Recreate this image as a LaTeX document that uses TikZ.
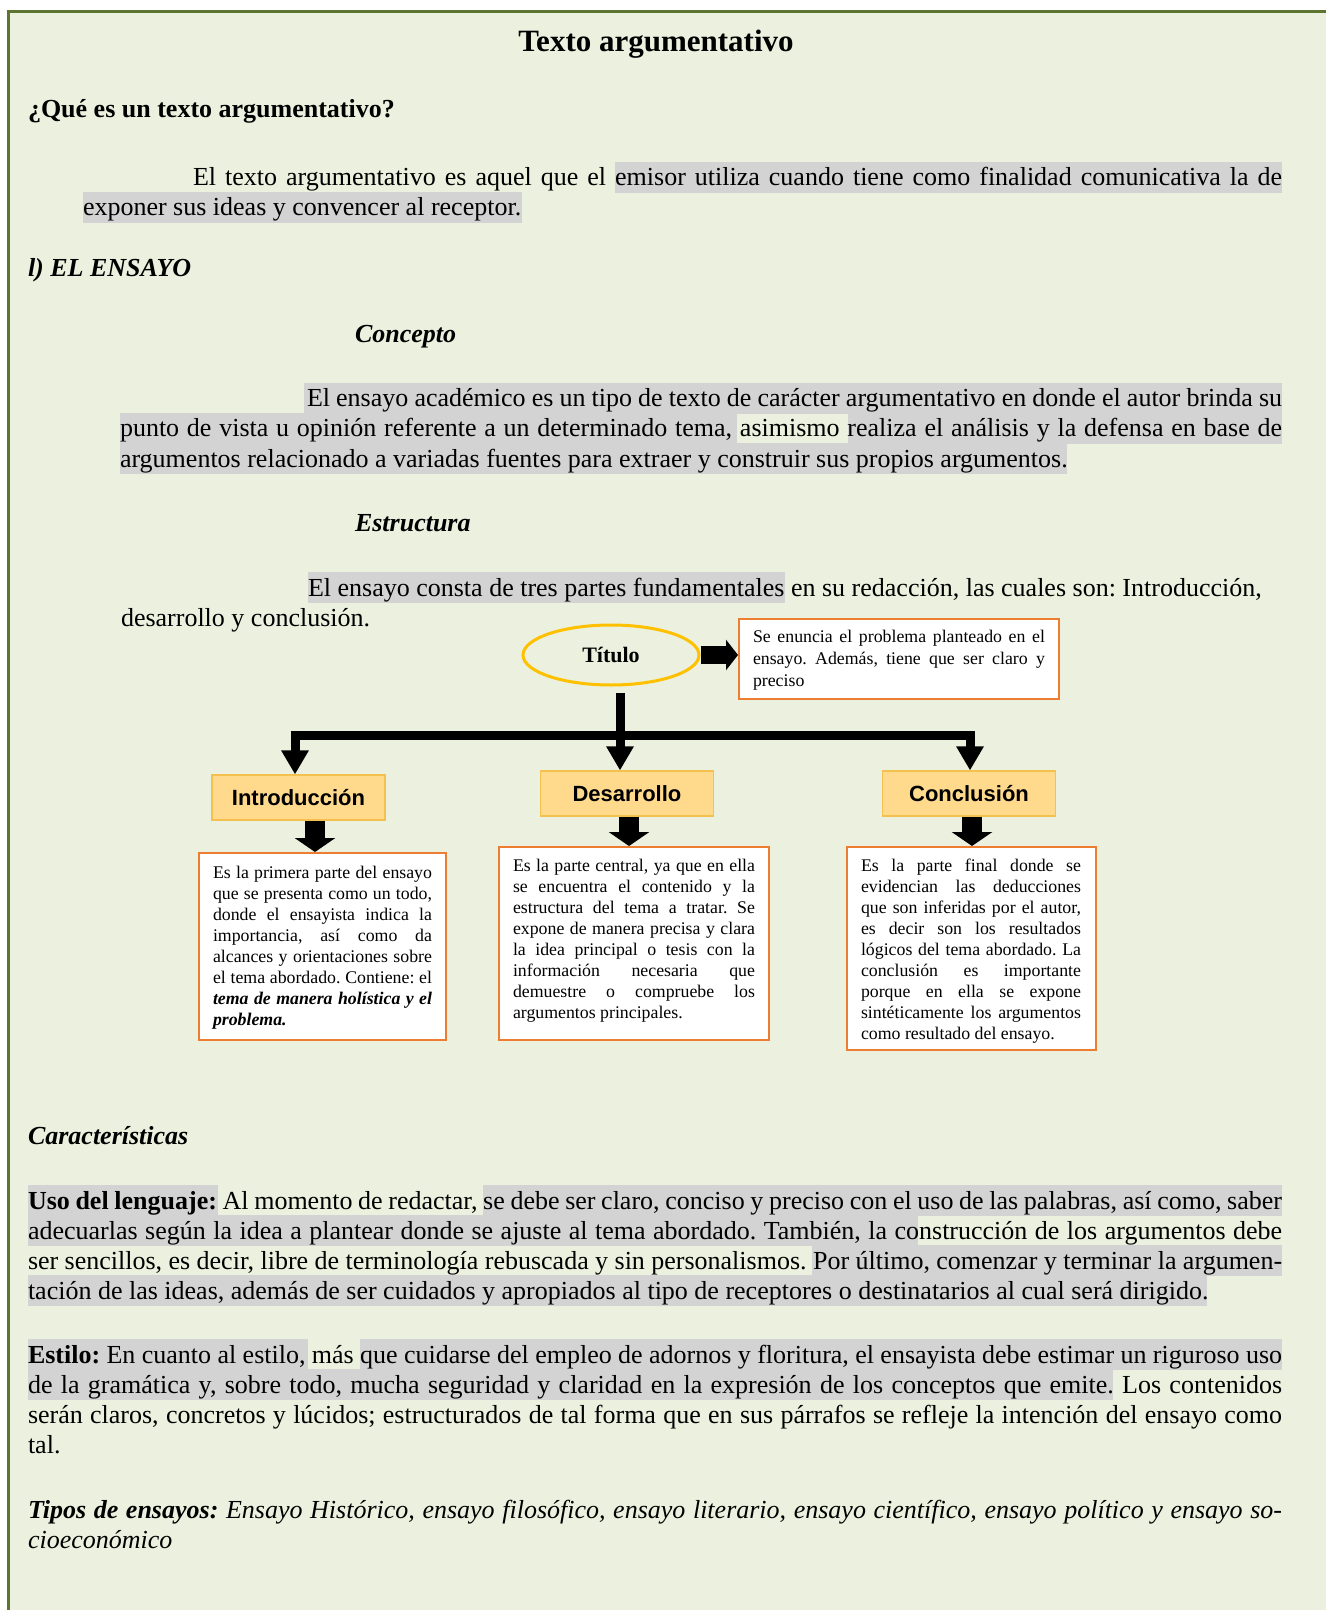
\documentclass[tikz,border=0pt]{standalone}
\usepackage{fontspec}
\setmainfont{Liberation Serif}
\setsansfont{Liberation Sans}
\usetikzlibrary{shapes.geometric,arrows.meta}
\definecolor{bgc}{HTML}{EBF1DE}
\definecolor{frc}{HTML}{5E7532}
\definecolor{hlc}{HTML}{D3D3D3}
\definecolor{orc}{HTML}{ED7D31}
\definecolor{goldc}{HTML}{FFC000}
\definecolor{ylf}{HTML}{FFD98C}
\definecolor{yld}{HTML}{F4C04E}
\newcommand{\jline}[5]{\node[txt] (#1) at (#2,#3) {\makebox[#4pt][s]{#5}};}
\newcommand{\pline}[4]{\node[txt] (#1) at (#2,#3) {#4};}
\newcommand{\sline}[5]{\node[stxt] (#1) at (#2,#3) {\makebox[#4pt][s]{#5}};}
\newcommand{\spline}[4]{\node[stxt] (#1) at (#2,#3) {#4};}
\newcommand{\hlr}[3]{\fill[hlc] (#1,#3-24) rectangle (#2,#3+7);}
\tikzset{
  txt/.style={anchor=base west,inner sep=0pt,outer sep=0pt,font=\fontsize{13}{15}\selectfont\frenchspacing},
  stxt/.style={anchor=base west,inner sep=0pt,outer sep=0pt,font=\fontsize{8.9}{10.5}\selectfont\frenchspacing},
  ybox/.style={draw=yld,fill=ylf,line width=0.6pt,minimum width=86.5pt,minimum height=22.5pt,inner sep=0pt,font=\sffamily\bfseries\fontsize{11}{13}\selectfont},
  obox/.style={draw=orc,fill=white,line width=1pt,inner sep=0pt},
  bar/.style={line width=4.5pt,line join=miter},
  bigtip/.style={-{Triangle[width=13pt,length=12pt]}},
  fat/.style={line width=10pt,-{Triangle[width=20pt,length=7pt]}},
}
\begin{document}
\frenchspacing
\begin{tikzpicture}[x=0.5pt,y=-0.5pt]
\useasboundingbox (0,0) rectangle (1326,1610);
\fill[white] (0,0) rectangle (1326,1610);
\fill[bgc] (8,12) rectangle (1326,1610);
\draw[frc,line width=1.5pt] (8,1610) -- (8,12) -- (1326,12);

% highlights
\hlr{615}{1282}{186}
\hlr{83}{522}{216}
\hlr{304}{1282}{407}
\hlr{120}{737}{437}
\hlr{848}{1282}{437}
\hlr{120}{1067}{467}
\hlr{308}{785}{596}
\hlr{28}{218}{1209}
\hlr{483}{1282}{1209}
\hlr{28}{918}{1239}
\hlr{812}{1282}{1269}
\hlr{28}{1207}{1299}
\hlr{28}{308}{1363}
\hlr{360}{1282}{1363}
\hlr{28}{1113}{1393}

% title and headings
\node[anchor=base,inner sep=0pt,font=\fontsize{15.5}{18}\selectfont\bfseries] (title) at (656,52) {Texto argumentativo};
\pline{q}{28}{118}{\textbf{¿Qué es un texto argumentativo?}}
\jline{p1a}{193}{186}{544.5}{El texto argumentativo es aquel que el emisor utiliza cuando tiene como finalidad comunicativa la de}
\pline{p1b}{83}{216}{exponer sus ideas y convencer al receptor.}
\pline{ens}{28}{277}{\textbf{\textit{l) EL ENSAYO}}}
\pline{conc}{355}{343}{\textbf{\textit{Concepto}}}
\jline{c1}{307}{407}{487.5}{El ensayo académico es un tipo de texto de carácter argumentativo en donde el autor brinda su}
\jline{c2}{120}{437}{581}{punto de vista u opinión referente a un determinado tema, asimismo realiza el análisis y la defensa en base de}
\pline{c3}{120}{467}{argumentos relacionado a variadas fuentes para extraer y construir sus propios argumentos.}
\pline{estr}{355}{531}{\textbf{\textit{Estructura}}}
\pline{e1}{308}{596}{El ensayo consta de tres partes fundamentales en su redacción, las cuales son: Introducción,}
\pline{e2}{121}{626}{desarrollo y conclusión.}

% diagram
\node[ellipse,draw=goldc,line width=1.5pt,minimum width=88pt,minimum height=30pt,inner sep=0pt,font=\fontsize{11}{13}\selectfont\bfseries] (tit) at (611,655) {Título};
\node[obox,minimum width=160pt,minimum height=40pt] (tbox) at (899,659) {};
\sline{t1}{753}{642}{146}{Se enuncia el problema planteado en el}
\sline{t2}{753}{664}{146}{ensayo. Además, tiene que ser claro y}
\spline{t3}{753}{686}{preciso}
\draw[line width=9pt,-{Triangle[width=15pt,length=6pt]}] (tit.east) -- (tit.east -| tbox.west);

\node[ybox] (intro) at (298.5,797.5) {Introducción};
\node[ybox] (desa) at (627,793.5) {Desarrollo};
\node[ybox] (concl) at (969,793.5) {Conclusión};

\coordinate (jc) at (620,735);
\coordinate (jl) at (295,735);
\coordinate (jr) at (970,735);
\draw[bar,bigtip] ([yshift=-3pt]tit.south -| jc) -- (desa.north -| jc);
\draw[bar,bigtip] (jc) -| (intro.north -| jl);
\draw[bar,bigtip] (jc) -| (concl.north -| jr);

\node[obox,minimum width=123.5pt,minimum height=93.5pt] (ibox) at (322.5,946.5) {};
\node[obox,minimum width=135pt,minimum height=96.5pt] (dbox) at (634,943.5) {};
\node[obox,minimum width=124.5pt,minimum height=101.5pt] (cbox) at (971.5,948.5) {};

\coordinate (ax1) at (315,0);
\coordinate (ax2) at (629,0);
\coordinate (ax3) at (972,0);
\draw[fat] (intro.south -| ax1) -- (ibox.north -| ax1);
\draw[fat] (desa.south -| ax2) -- (dbox.north -| ax2);
\draw[fat] (concl.south -| ax3) -- (cbox.north -| ax3);

\sline{i1}{213}{878}{109.5}{Es la primera parte del ensayo}
\sline{i2}{213}{899}{109.5}{que se presenta como un todo,}
\sline{i3}{213}{920}{109.5}{donde el ensayista indica la}
\sline{i4}{213}{941}{109.5}{importancia, así como da}
\sline{i5}{213}{962}{109.5}{alcances y orientaciones sobre}
\sline{i6}{213}{983}{109.5}{el tema abordado. Contiene: el}
\sline{i7}{213}{1004}{109.5}{\textbf{\textit{tema de manera holística y el}}}
\spline{i8}{213}{1025}{\textbf{\textit{problema.}}}

\sline{d1}{513}{871}{121}{Es la parte central, ya que en ella}
\sline{d2}{513}{892}{121}{se encuentra el contenido y la}
\sline{d3}{513}{913}{121}{estructura del tema a tratar. Se}
\sline{d4}{513}{934}{121}{expone de manera precisa y clara}
\sline{d5}{513}{955}{121}{la idea principal o tesis con la}
\sline{d6}{513}{976}{121}{información necesaria que}
\sline{d7}{513}{997}{121}{demuestre o compruebe los}
\spline{d8}{513}{1018}{argumentos principales.}

\sline{k1}{861}{871}{110}{Es la parte final donde se}
\sline{k2}{861}{892}{110}{evidencian las deducciones}
\sline{k3}{861}{913}{110}{que son inferidas por el autor,}
\sline{k4}{861}{934}{110}{es decir son los resultados}
\sline{k5}{861}{955}{110}{lógicos del tema abordado. La}
\sline{k6}{861}{976}{110}{conclusión es importante}
\sline{k7}{861}{997}{110}{porque en ella se expone}
\sline{k8}{861}{1018}{110}{sintéticamente los argumentos}
\spline{k9}{861}{1039}{como resultado del ensayo.}

% characteristics
\pline{car}{28}{1144}{\textbf{\textit{Características}}}
\jline{u1}{28}{1209}{627}{\textbf{Uso del lenguaje:} Al momento de redactar, se debe ser claro, conciso y preciso con el uso de las palabras, así como, saber}
\jline{u2}{28}{1239}{627}{adecuarlas según la idea a plantear donde se ajuste al tema abordado. También, la construcción de los argumentos debe}
\jline{u3}{28}{1269}{627}{ser sencillos, es decir, libre de terminología rebuscada y sin personalismos. Por último, comenzar y terminar la argumen-}
\pline{u4}{28}{1299}{tación de las ideas, además de ser cuidados y apropiados al tipo de receptores o destinatarios al cual será dirigido.}

\jline{s1}{28}{1363}{627}{\textbf{Estilo:} En cuanto al estilo, más que cuidarse del empleo de adornos y floritura, el ensayista debe estimar un riguroso uso}
\jline{s2}{28}{1393}{627}{de la gramática y, sobre todo, mucha seguridad y claridad en la expresión de los conceptos que emite. Los contenidos}
\jline{s3}{28}{1423}{627}{serán claros, concretos y lúcidos; estructurados de tal forma que en sus párrafos se refleje la intención del ensayo como}
\pline{s4}{28}{1453}{tal.}

\jline{tp1}{28}{1518}{627}{\itshape\textbf{Tipos de ensayos:} Ensayo Histórico, ensayo filosófico, ensayo literario, ensayo científico, ensayo político y ensayo so-}
\pline{tp2}{28}{1548}{\textit{cioeconómico}}
\end{tikzpicture}
\end{document}
